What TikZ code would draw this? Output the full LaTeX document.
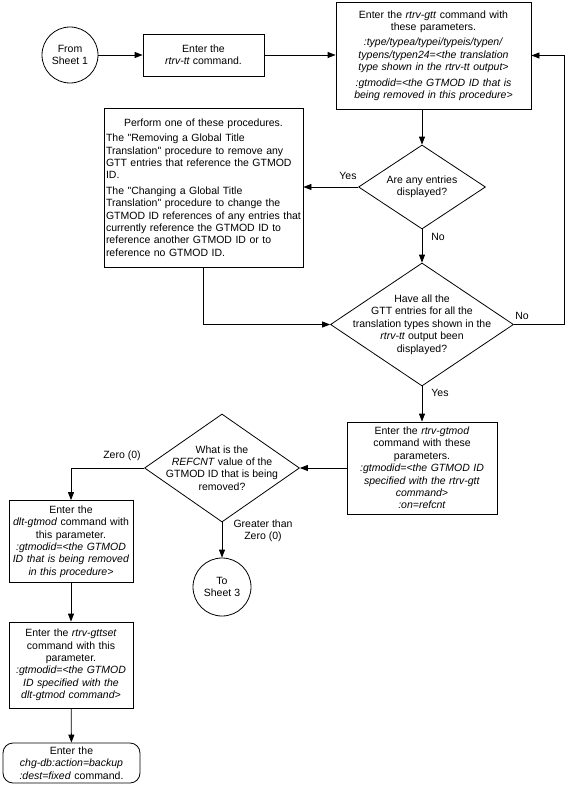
\documentclass[tikz,border=0pt]{standalone}
\usepackage{fontspec}
\setmainfont{Liberation Sans}
\usetikzlibrary{shapes.geometric,arrows.meta,calc}
\begin{document}
\begin{tikzpicture}[x=1pt,y=-1pt,
  every node/.style={font=\fontsize{10.5}{12.4}\selectfont},
  box/.style={draw, line width=0.8pt, inner sep=2pt, align=center},
  dia/.style={draw, line width=0.8pt, shape=diamond, inner sep=0pt},
  dtext/.style={inner sep=0pt, align=center},
  circ/.style={draw, line width=0.8pt, circle, inner sep=0pt, align=center},
  arr/.style={line width=0.8pt, -{Triangle[length=8pt,width=6pt]}},
  lbl/.style={inner sep=1pt}]
\useasboundingbox (0,0) rectangle (565,792);

\node[circ, minimum size=56pt] (from) at (70,55) {From\\Sheet 1};
\node[box, minimum width=121pt, minimum height=42pt] (tt) at (203.5,55) {Enter the\\\textit{rtrv-tt} command.};
\node[box, text width=191pt, minimum height=107pt] (gtt) at (433.5,55.5) {Enter the \textit{rtrv-gtt} command with\\these parameters.\\[3pt]\textit{:type/typea/typei/typeis/typen/}\\\textit{typens/typen24=<the translation}\\\textit{type shown in the rtrv-tt output>}\\[3pt]\textit{:gtmodid=<the GTMOD ID that is}\\\textit{being removed in this procedure>}};

\node[box, align=left, text width=195pt, minimum height=159pt] (perf) at (203.5,187.5) {\makebox[\linewidth][c]{Perform one of these procedures.}\\[3pt]The \textquotedbl Removing a Global Title\\Translation\textquotedbl{} procedure to remove any\\GTT entries that reference the GTMOD\\ID.\\[3pt]The \textquotedbl Changing a Global Title\\Translation\textquotedbl{} procedure to change the\\GTMOD ID references of any entries that\\currently reference the GTMOD ID to\\reference another GTMOD ID or to\\reference no GTMOD ID.};

\node[dia, minimum width=127pt, minimum height=84pt] (d1) at (422,187) {};
\node[dtext] (d1t) at (d1) {Are any entries\\displayed?};

\node[dia, minimum width=183pt, minimum height=123pt] (d2) at (422,324.5) {};
\node[dtext] (d2t) at (d2) {Have all the\\GTT entries for all the\\translation types shown in the\\\textit{rtrv-tt} output been\\displayed?};

\node[box, text width=146pt, minimum height=92pt] (gtmod) at (422,468) {Enter the \textit{rtrv-gtmod}\\command with these\\parameters.\\\textit{:gtmodid=<the GTMOD ID}\\\textit{specified with the rtrv-gtt}\\\textit{command>}\\\textit{:on=refcnt}};

\node[dia, minimum width=155pt, minimum height=108pt] (d3) at (222,468) {};
\node[dtext] (d3t) at (d3) {What is the\\\textit{REFCNT} value of the\\GTMOD ID that is being\\removed?};

\node[circ, minimum size=58pt] (to) at (222,587) {To\\Sheet 3};

\node[box, text width=120pt, minimum height=82pt] (dlt) at (71,541.5) {Enter the\\\textit{dlt-gtmod} command with\\this parameter.\\\textit{:gtmodid=<the GTMOD}\\\textit{ID that is being removed}\\\textit{in this procedure>}};

\node[box, text width=120pt, minimum height=86pt] (gttset) at (71,665) {Enter the \textit{rtrv-gttset}\\command with this\\parameter.\\\textit{:gtmodid=<the GTMOD}\\\textit{ID specified with the}\\\textit{dlt-gtmod command>}};

\node[box, rounded corners=10pt, text width=133pt, minimum height=40pt] (term) at (71.5,763) {Enter the\\\textit{chg-db:action=backup}\\\textit{:dest=fixed} command.};

\coordinate (rc) at (564,0);

\draw[arr] (from) -- (tt);
\draw[arr] (tt.east) -- (tt.east -| gtt.west);
\draw[arr] (gtt.south -| d1.north) -- (d1.north);
\draw[arr] (d1.west) -- (d1.west -| perf.east);
\draw[arr] (d1.south) -- (d2.north);
\draw[arr] (perf.south) |- (d2.west);
\draw[arr] (d2.east) -- (d2.east -| rc) |- (gtt.east);
\draw[arr] (d2.south) -- (gtmod.north);
\draw[arr] (gtmod.west) -- (d3.east);
\draw[arr] (d3.west) -| (dlt.north);
\draw[arr] (d3.south) -- (to.north);
\draw[arr] (dlt) -- (gttset);
\draw[arr] (gttset) -- (term);

\node[lbl] (l1) at (348,176) {Yes};
\node[lbl] (l2) at (438,237) {No};
\node[lbl] (l3) at (522,316) {No};
\node[lbl] (l4) at (440,393) {Yes};
\node[lbl] (l5) at (122,456) {Zero (0)};
\node[lbl, align=center] (l6) at (263,531) {Greater than\\Zero (0)};
\end{tikzpicture}
\end{document}
